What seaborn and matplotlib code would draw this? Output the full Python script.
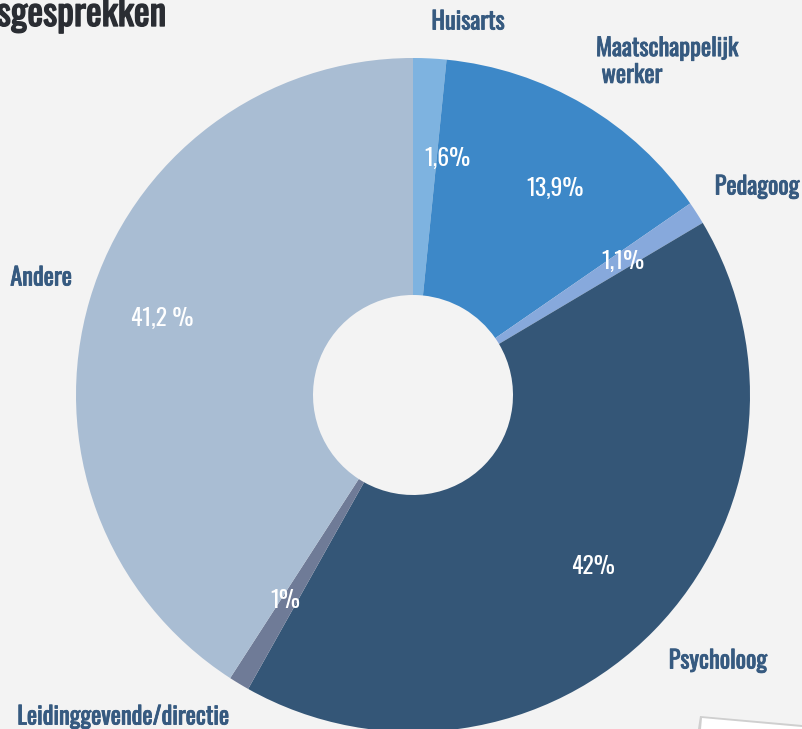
import seaborn as sns
import matplotlib.pyplot as plt
import matplotlib.patheffects as pe
from matplotlib.patches import Polygon

# data
categories = ['Huisarts', 'Maatschappelijk\n werker', 'Pedagoog', 'Psycholoog',
              'Leidinggevende/directie', 'Andere']
shares = [1.6, 13.9, 1.1, 42.0, 1.0, 41.2]
pct_labels = ['1,6%', '13,9%', '1,1%', '42%', '1%', '41,2 %']
colors = ['#7eb3e0', '#3d88c8', '#87a9dc', '#345677', '#6f7b97', '#a9bdd3']

# label placement (pixel coordinates, y from top)
name_pos = [(468, 22), (596, 62), (757, 187), (718, 661), (123, 717), (41, 278)]
pct_pos = [(447, 158), (555, 188), (623, 261), (593, 567), (285, 601), (162, 318)]

sns.set_style('white')
plt.rcParams['font.family'] = ['Oswald', 'DejaVu Sans']

W, H = 802, 729
bg = '#f3f3f3'
fig = plt.figure(figsize=(W / 100, H / 100), dpi=100, facecolor=bg)
ax = fig.add_axes([0, 0, 1, 1])
ax.set_facecolor(bg)

cx, cy, r = 413, H - 395, 337
ax.pie(shares, colors=colors, startangle=90, counterclock=False,
       center=(cx, cy), radius=r, frame=True,
       wedgeprops=dict(width=r - 100, linewidth=0))
ax.set_xlim(0, W)
ax.set_ylim(0, H)
ax.set_aspect('equal')
ax.axis('off')

label_col = '#365a80'
for name, (x, y) in zip(categories, name_pos):
    ha = 'left' if '\n' in name else 'center'
    ax.text(x, H - y, name, ha=ha, va='center', fontsize=17.5, color=label_col,
            linespacing=1.2,
            path_effects=[pe.withStroke(linewidth=0.6, foreground=label_col)])

for lab, (x, y) in zip(pct_labels, pct_pos):
    ax.text(x, H - y, lab, ha='center', va='center', fontsize=17,
            color='white')

# cut off title
title_col = '#2a2d33'
fig.text(-0.004, 1 + 4 / H, 'sgesprekken', ha='left', va='top', fontsize=27,
         color=title_col,
         path_effects=[pe.withStroke(linewidth=1.0, foreground=title_col)])

# white sheet peeking in the bottom right corner
fig.patches.append(Polygon([[700 / W, 1 - 716 / H], [1.0, 1 - 725 / H], [1.0, 0.0], [698 / W, 0.0]],
                           closed=True, transform=fig.transFigure, facecolor='#cfcfcf',
                           edgecolor='none', zorder=0))
fig.patches.append(Polygon([[702 / W, 1 - 718 / H], [1.0, 1 - 727 / H], [1.0, 0.0], [701 / W, 0.0]],
                           closed=True, transform=fig.transFigure, facecolor='white',
                           edgecolor='none', zorder=1))

fig.savefig('out.png', dpi=100, facecolor=bg)
